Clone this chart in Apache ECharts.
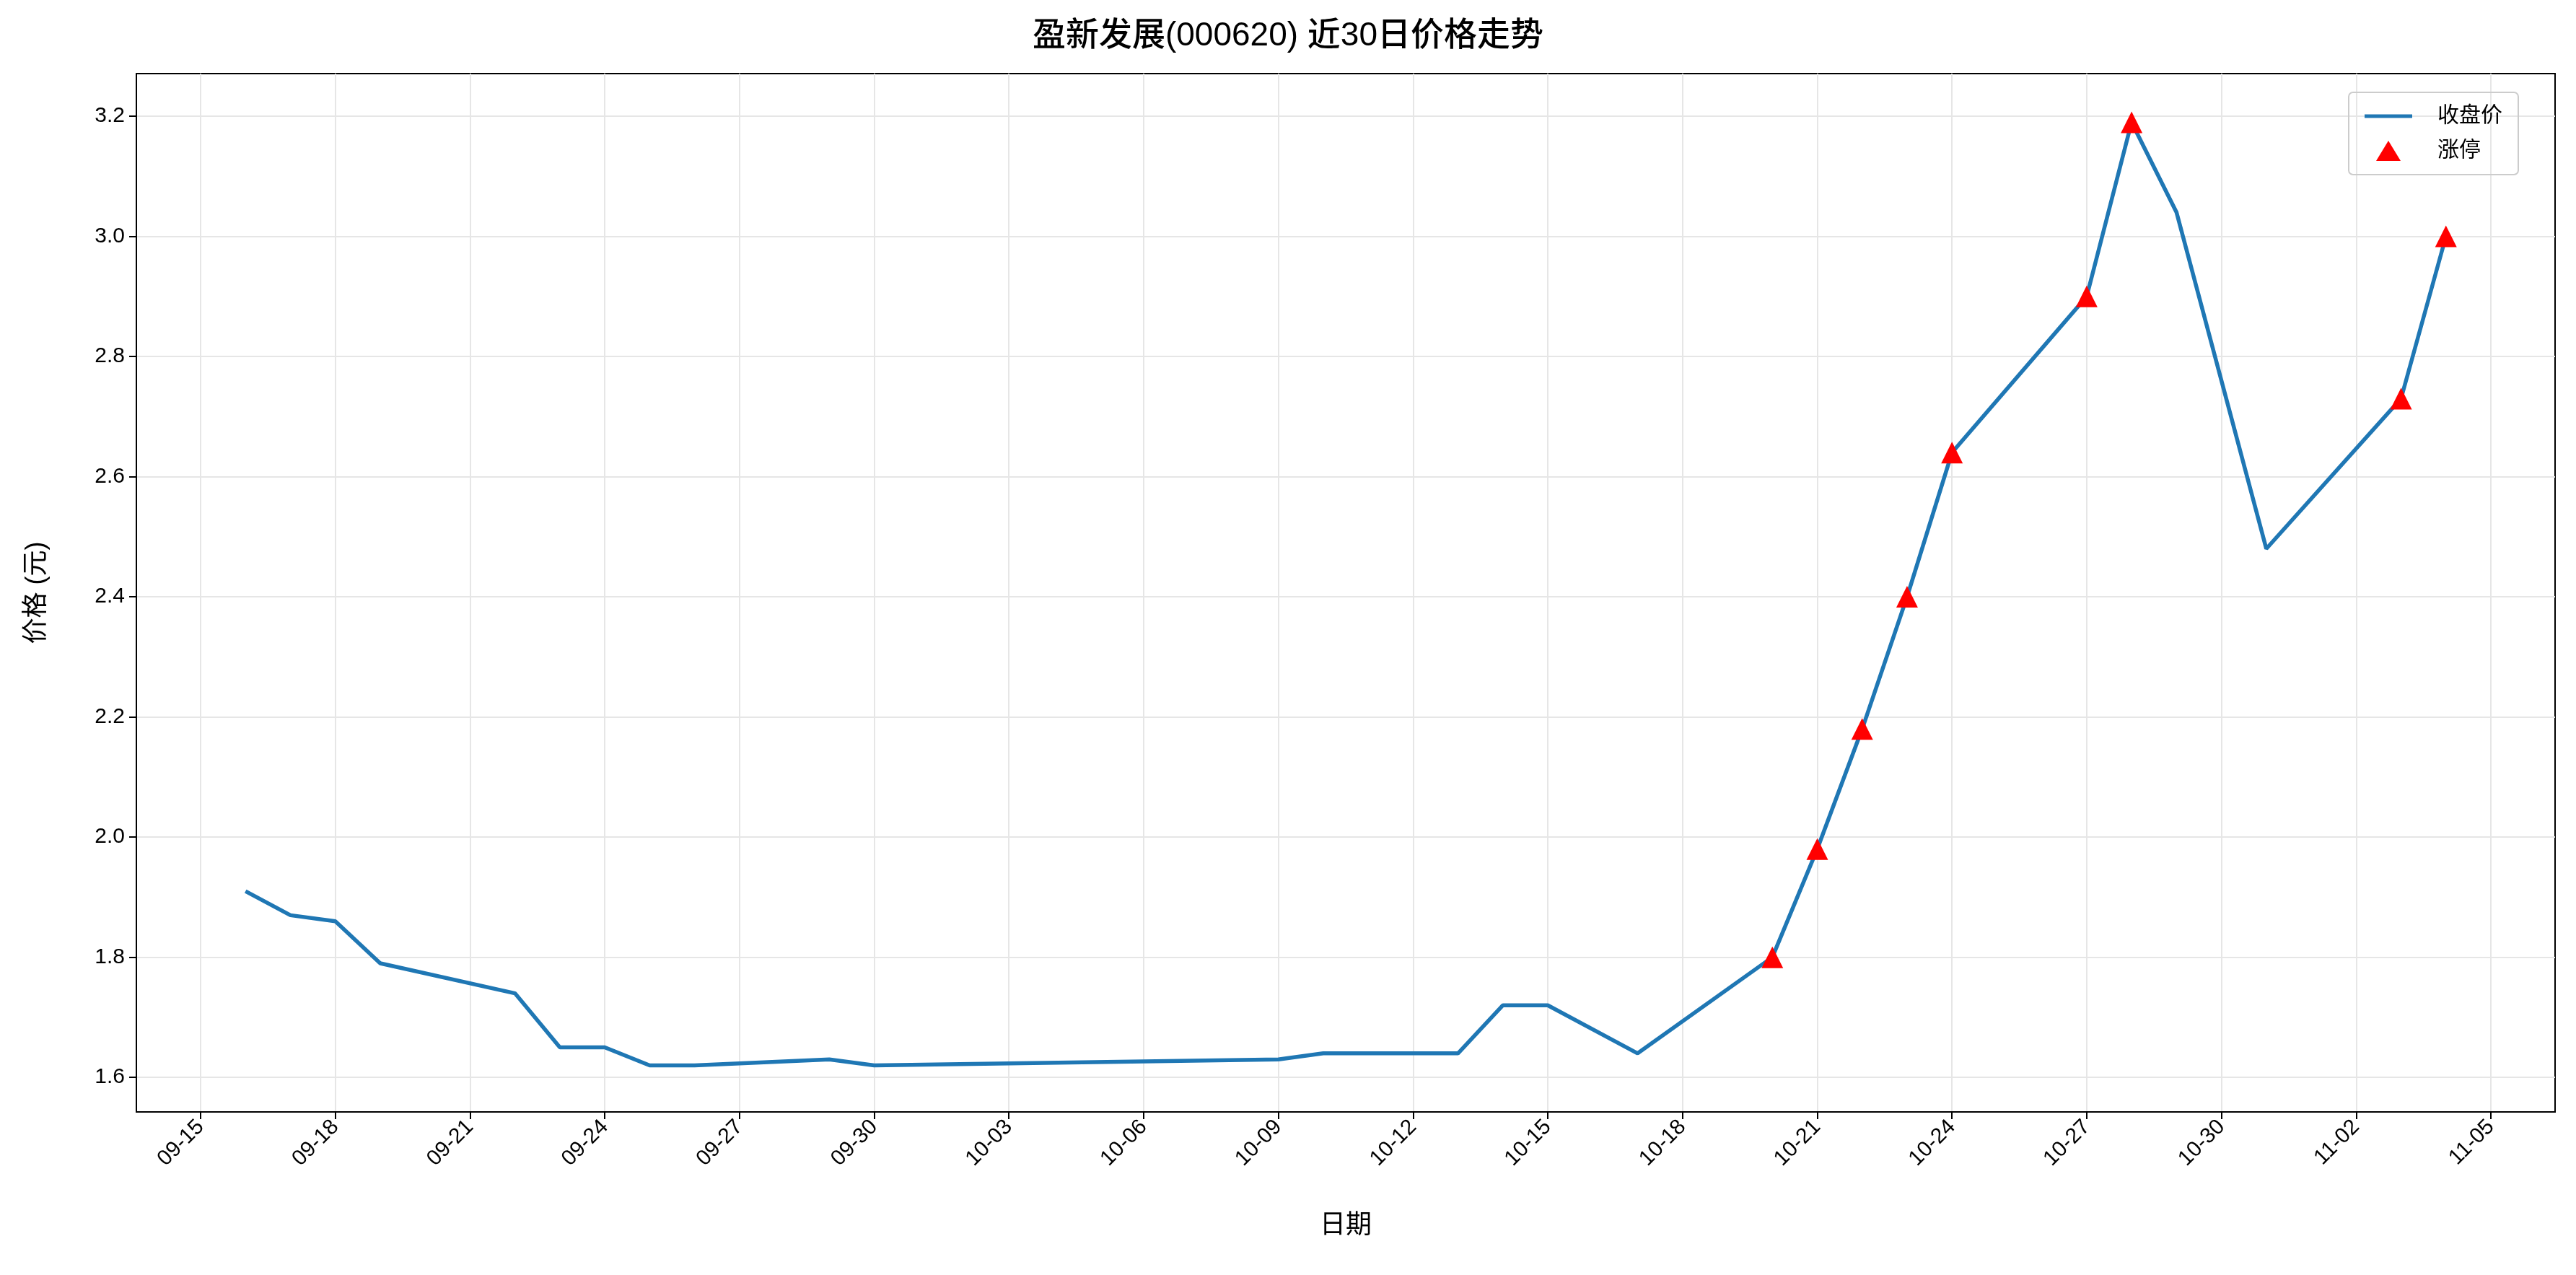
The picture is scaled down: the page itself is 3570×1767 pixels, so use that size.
<!DOCTYPE html>
<html><head><meta charset="utf-8">
<script src="https://cdn.jsdelivr.net/npm/echarts@6/dist/echarts.min.js"></script>
<style>html,body{margin:0;background:#fff}#c{width:3570px;height:1767px}</style>
</head><body><div id="c"></div>
<script>
// 收盘价
var dates = ['09-16','09-17','09-18','09-19','09-22','09-23','09-24','09-25','09-26','09-29','09-30',
	'10-09','10-10','10-13','10-14','10-15','10-17','10-20','10-21','10-22','10-23','10-24',
	'10-27','10-28','10-29','10-31','11-03','11-04'];
var closes = [1.91,1.87,1.86,1.79,1.74,1.65,1.65,1.62,1.62,1.63,1.62,
	1.63,1.64,1.64,1.72,1.72,1.64,1.80,1.98,2.18,2.40,2.64,
	2.90,3.19,3.04,2.48,2.73,3.00];
// 涨停
var limitDates = ['10-20','10-21','10-22','10-23','10-24','10-27','10-28','11-03','11-04'];
var limitPrices = [1.80,1.98,2.18,2.40,2.64,2.90,3.19,2.73,3.00];
var tickLabels = ['09-15','09-18','09-21','09-24','09-27','09-30','10-03','10-06','10-09','10-12',
	'10-15','10-18','10-21','10-24','10-27','10-30','11-02','11-05'];
var yTicks = [1.6,1.8,2.0,2.2,2.4,2.6,2.8,3.0,3.2];

var base = Date.UTC(2025, 8, 15);
function dayIdx(s) {
	var p = s.split('-');
	return (Date.UTC(2025, p[0] - 1, +p[1]) - base) / 86400000;
}
var idxToLabel = {};
tickLabels.forEach(function(t) { idxToLabel[dayIdx(t)] = t; });
var tickIdx = tickLabels.map(dayIdx);

var font = 'Liberation Sans, Noto Sans CJK SC, sans-serif';
var chart = echarts.init(document.getElementById('c'));
chart.setOption({
	animation: false,
	textStyle: { fontFamily: font },
	title: { text: '盈新发展(000620) 近30日价格走势', left: 'center', top: 22,
		textStyle: { fontSize: 46, fontWeight: 500, color: '#000', fontFamily: font } },
	legend: {
		right: 80, top: 128, orient: 'vertical', itemWidth: 66, itemHeight: 28, itemGap: 18,
		padding: [18, 22], borderColor: '#ccc', borderWidth: 2, borderRadius: 6,
		textStyle: { fontSize: 30, color: '#000', padding: [0, 0, 0, 30] },
		data: [{ name: '收盘价', icon: 'path://M0,13 L66,13 L66,18 L0,18 Z' },
			{ name: '涨停', icon: 'path://M33,0 L50,28 L16,28 Z' }]
	},
	grid: { left: 189, right: 29, top: 102, bottom: 226, show: true,
		borderColor: '#000', borderWidth: 2, backgroundColor: 'transparent' },
	xAxis: {
		type: 'value', min: -1.43, max: 52.43,
		name: '日期', nameLocation: 'middle', nameGap: 140,
		nameTextStyle: { fontSize: 36, color: '#000' },
		axisLine: { show: true, onZero: false, lineStyle: { color: '#000', width: 2 } },
		axisTick: { show: true, length: 10, lineStyle: { color: '#000', width: 2 }, customValues: tickIdx },
		axisLabel: { rotate: 45, fontSize: 30, color: '#000', margin: 16, customValues: tickIdx,
			padding: [0, 0, 0, 0], align: 'right', verticalAlign: 'middle',
			formatter: function(v) { return idxToLabel[Math.round(v)] || ''; } },
		splitLine: { show: true, lineStyle: { color: '#e6e6e6', width: 2 } }
	},
	yAxis: {
		type: 'value', min: 1.5425, max: 3.271,
		name: '价格 (元)', nameLocation: 'middle', nameGap: 120,
		nameTextStyle: { fontSize: 36, color: '#000' },
		axisLine: { show: true, onZero: false, lineStyle: { color: '#000', width: 2 } },
		axisTick: { show: true, length: 10, lineStyle: { color: '#000', width: 2 }, customValues: yTicks },
		axisLabel: { fontSize: 30, color: '#000', margin: 16, customValues: yTicks,
			formatter: function(v) { return v.toFixed(1); } },
		splitLine: { show: true, lineStyle: { color: '#e6e6e6', width: 2 } }
	},
	series: [{
		name: '收盘价', type: 'line', symbol: 'none',
		lineStyle: { color: '#1f77b4', width: 5.5 }, itemStyle: { color: '#1f77b4' },
		data: dates.map(function(d, i) { return [dayIdx(d), closes[i]]; })
	}, {
		name: '涨停', type: 'scatter', symbol: 'triangle', symbolSize: 30, z: 5,
		itemStyle: { color: '#ff0000', opacity: 1 },
		data: limitDates.map(function(d, i) { return [dayIdx(d), limitPrices[i]]; })
	}]
});
</script></body></html>
